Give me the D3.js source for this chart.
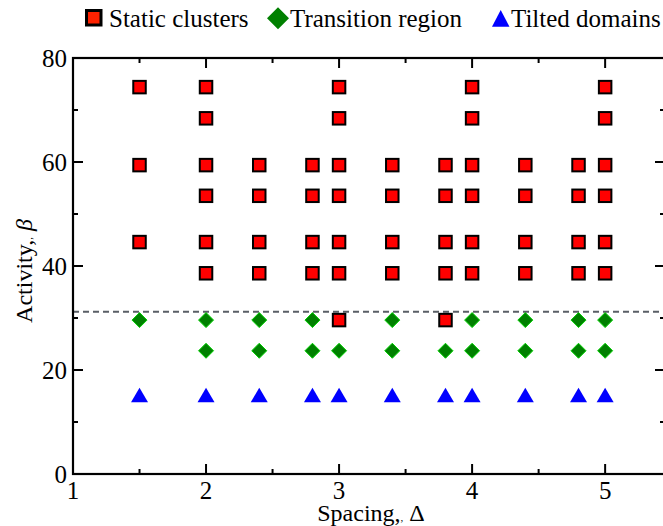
<!DOCTYPE html>
<html>
<head>
<meta charset="utf-8">
<script src="https://cdn.jsdelivr.net/npm/d3@7"></script>
<style>
  body { margin: 0; background: #fff; }
  svg text { font-family: "Liberation Serif", "Times New Roman", serif; fill: #000; }
</style>
</head>
<body>
<div id="chart"></div>
<script>
// data
var staticX = [1.5,1.5,1.5,
  2,2,2,2,2,2,
  2.4,2.4,2.4,2.4,
  2.8,2.8,2.8,2.8,
  3,3,3,3,3,3,3,
  3.4,3.4,3.4,3.4,
  3.8,3.8,3.8,3.8,3.8,
  4,4,4,4,4,4,
  4.4,4.4,4.4,4.4,
  4.8,4.8,4.8,4.8,
  5,5,5,5,5,5];
var staticY = [74.4,59.4,44.6,
  74.4,68.4,59.4,53.5,44.6,38.6,
  59.4,53.5,44.6,38.6,
  59.4,53.5,44.6,38.6,
  74.4,68.4,59.4,53.5,44.6,38.6,29.6,
  59.4,53.5,44.6,38.6,
  59.4,53.5,44.6,38.6,29.6,
  74.4,68.4,59.4,53.5,44.6,38.6,
  59.4,53.5,44.6,38.6,
  59.4,53.5,44.6,38.6,
  74.4,68.4,59.4,53.5,44.6,38.6];
var transX = [1.5, 2,2, 2.4,2.4, 2.8,2.8, 3, 3.4,3.4, 3.8, 4,4, 4.4,4.4, 4.8,4.8, 5,5];
var transY = [29.6, 29.6,23.7, 29.6,23.7, 29.6,23.7, 23.7, 29.6,23.7, 23.7, 29.6,23.7, 29.6,23.7, 29.6,23.7, 29.6,23.7];
var tiltX = [1.5, 2, 2.4, 2.8, 3, 3.4, 3.8, 4, 4.4, 4.8, 5];
var tiltY = [14.9, 14.9, 14.9, 14.9, 14.9, 14.9, 14.9, 14.9, 14.9, 14.9, 14.9];
var threshold = 31.2;
var xTicks = [1, 2, 3, 4, 5];
var xMinor = [1.5, 2.5, 3.5, 4.5];
var yTicks = [0, 20, 40, 60, 80];
var yMinor = [10, 30, 50, 70];
var legendNames = ["Static clusters", "Transition region", "Tilted domains"];

var W = 663, H = 526;
var mLeft = 73, mRight = 665, mTop = 58, mBottom = 474;

var svg = d3.select("#chart").append("svg")
  .attr("width", W).attr("height", H);

var x = d3.scaleLinear().domain([1, 5.45]).range([mLeft, mRight]);
var y = d3.scaleLinear().domain([0, 80]).range([mBottom, mTop]);

var zip = function (a, b) { return a.map(function (v, i) { return [v, b[i]]; }); };

// dashed threshold line
svg.append("line")
  .attr("x1", mLeft).attr("x2", mRight)
  .attr("y1", y(threshold)).attr("y2", y(threshold))
  .attr("stroke", "#5a5f66").attr("stroke-width", 2.2)
  .attr("stroke-dasharray", "6,4");

// markers
var sq = 12.5;
svg.append("g").selectAll("rect")
  .data(zip(staticX, staticY))
  .join("rect")
  .attr("x", function (d) { return x(d[0]) - sq / 2; })
  .attr("y", function (d) { return y(d[1]) - sq / 2; })
  .attr("width", sq).attr("height", sq)
  .attr("fill", "#ff0000").attr("stroke", "#000").attr("stroke-width", 2);

var diamond = function (cx, cy, r) {
  return "M" + cx + "," + (cy - r) + "L" + (cx + r) + "," + cy + "L" + cx + "," + (cy + r) + "L" + (cx - r) + "," + cy + "Z";
};
svg.append("g").selectAll("path")
  .data(zip(transX, transY))
  .join("path")
  .attr("d", function (d) { return diamond(x(d[0]), y(d[1]), 7.5); })
  .attr("fill", "#008000").attr("stroke", "#00d000").attr("stroke-width", 1);

var tri = function (cx, cy, s, h) {
  return "M" + cx + "," + (cy - h * 0.6) + "L" + (cx + s / 2) + "," + (cy + h * 0.4) + "L" + (cx - s / 2) + "," + (cy + h * 0.4) + "Z";
};
svg.append("g").selectAll("path")
  .data(zip(tiltX, tiltY))
  .join("path")
  .attr("d", function (d) { return tri(x(d[0]), y(d[1]), 17, 14.5); })
  .attr("fill", "#0000ff");

// frame
svg.append("rect")
  .attr("x", mLeft).attr("y", mTop)
  .attr("width", mRight - mLeft).attr("height", mBottom - mTop)
  .attr("fill", "none").attr("stroke", "#000").attr("stroke-width", 2.2);

// ticks (inward, mirrored)
var tk = svg.append("g").attr("stroke", "#000").attr("stroke-width", 2);
xTicks.forEach(function (v) {
  tk.append("line").attr("x1", x(v)).attr("x2", x(v)).attr("y1", mBottom).attr("y2", mBottom - 10);
  tk.append("line").attr("x1", x(v)).attr("x2", x(v)).attr("y1", mTop).attr("y2", mTop + 10);
});
xMinor.forEach(function (v) {
  tk.append("line").attr("x1", x(v)).attr("x2", x(v)).attr("y1", mBottom).attr("y2", mBottom - 5);
  tk.append("line").attr("x1", x(v)).attr("x2", x(v)).attr("y1", mTop).attr("y2", mTop + 5);
});
yTicks.forEach(function (v) {
  tk.append("line").attr("x1", mLeft).attr("x2", mLeft + 10).attr("y1", y(v)).attr("y2", y(v));
  tk.append("line").attr("x1", mRight).attr("x2", mRight - 10).attr("y1", y(v)).attr("y2", y(v));
});
yMinor.forEach(function (v) {
  tk.append("line").attr("x1", mLeft).attr("x2", mLeft + 5).attr("y1", y(v)).attr("y2", y(v));
  tk.append("line").attr("x1", mRight).attr("x2", mRight - 5).attr("y1", y(v)).attr("y2", y(v));
});

// tick labels
svg.append("g").selectAll("text")
  .data(xTicks).join("text")
  .attr("x", function (d) { return x(d); })
  .attr("y", 499)
  .attr("text-anchor", "middle")
  .style("font-size", "25px")
  .text(function (d) { return d; });
svg.append("g").selectAll("text")
  .data(yTicks).join("text")
  .attr("x", 67)
  .attr("y", function (d) { return y(d) + 9; })
  .attr("text-anchor", "end")
  .style("font-size", "25px")
  .text(function (d) { return d; });

// axis titles
var xt = svg.append("text")
  .attr("x", 371).attr("y", 521)
  .attr("text-anchor", "middle")
  .style("font-size", "24px");
xt.append("tspan").text("Spacing,");
xt.append("tspan").style("font-size", "11px").text(",");
xt.append("tspan").text(" \u0394");

var yt = svg.append("text")
  .attr("transform", "translate(32,271) rotate(-90)")
  .attr("text-anchor", "middle")
  .style("font-size", "24px");
yt.append("tspan").text("Activity,");
yt.append("tspan").style("font-size", "11px").text(",");
yt.append("tspan").style("font-style", "italic").text(" \u03b2");

// legend
var lg = svg.append("g");
lg.append("rect").attr("x", 86.5).attr("y", 10.5).attr("width", 14.5).attr("height", 14.5)
  .attr("fill", "#ff2200").attr("stroke", "#000").attr("stroke-width", 3);
lg.append("text").attr("x", 109).attr("y", 27).style("font-size", "25px").text(legendNames[0]);
lg.append("path").attr("d", diamond(278, 18.3, 11)).attr("fill", "#008000");
lg.append("text").attr("x", 290).attr("y", 27).style("font-size", "25px").text(legendNames[1]);
lg.append("path").attr("d", "M500.7,10L509.5,26.8L492,26.8Z").attr("fill", "#0000ff");
lg.append("text").attr("x", 511).attr("y", 27).style("font-size", "25px").text(legendNames[2]);
</script>
</body>
</html>
